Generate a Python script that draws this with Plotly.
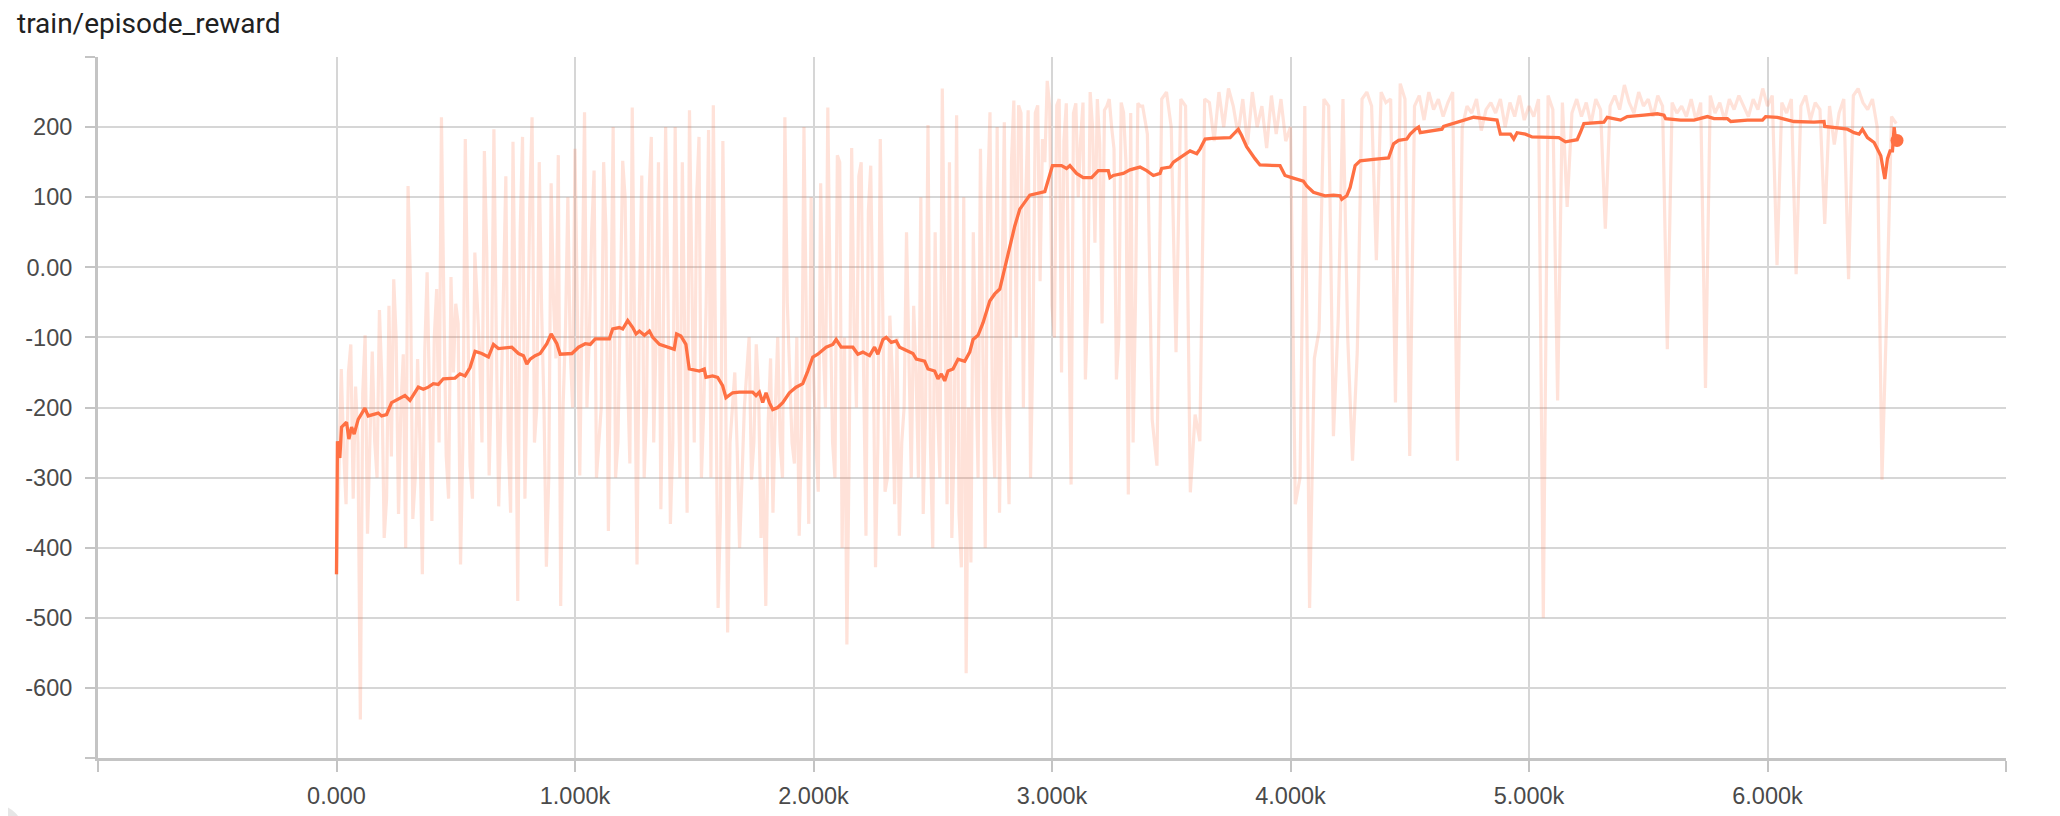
import plotly.graph_objects as go

# ---------------- data ----------------
TITLE = "train/episode_reward"

# episodes logged every 20 steps (whole run)
raw_values = [
    # 0 - 1100
    -438, -145, -338, -110, -170, -645, -97, -255, -248, -61, -386, -55, -17, -352, -124, 116,
    -359, -131, -438, -7, -362, -31, 214, -269, -14, -52, -424, 183, -283, 21, -124, 166,
    -297, 197, -341, -45, -248, 179, -476, 186, -150, 214, -200, -60, -427, 120, -130, -483,
    -90, -120, 169, -297, 221, -100, 138, -250,
    # 1120 - 2220
    150, -376, 200, -250, 152, -150, 228, -424, 131, -200, 186, -100, -345, 200, -366, 200,
    -300, -80, 224, -250, 186, -200, 196, 231, -486, 180, -521, -200, -260, -303, -150, -303,
    -110, -386, -483, -130, -200, -250, 214, -150, -280, -383, 200, -366, -150, -320, -100, 228,
    -250, 160, -400, -538, 170, -200, 150, -383,
    # 2240 - 3360
    145, -428, 183, -320, -69, -338, -383, -200, -150, -55, -300, -352, 203, -400, -200, 255,
    -338, -386, 217, -428, -579, -421, -100, 169, -400, 221, -300, -350, 207, -338, 238, 231,
    -200, 224, -110, 231, 183, 266, -55, 231, -150, 234, -310, 234, 183, -160, 250, 35,
    176, 224, 240, 169, -100, 221, -324, -250, 234,
    # 3380 - 4500
    230, 190, -217, -283, 240, 250, 200, -121, 240, 230, -321, -210, -248, 240, 235, 180,
    250, 200, 255, 230, 190, 240, 175, 250, 200, 230, 170, 245, 190, 240, 180, 200,
    -338, -300, 230, -486, -130, -90, 240, 230, -241, -75, 240, -100, -276, -120, 240, 250,
    230, 10, 250, 235, 240, -193, 262, 240, -269,
    # 4520 - 5620
    230, 245, 210, 250, 225, 240, 215, 235, 250, -276, 200, 230, 220, 240, 195, 225,
    235, 220, 240, 200, 235, 215, 245, 210, 230, 215, 240, -500, 245, 225, -190, 235,
    86, 220, 240, 215, 235, 205, 240, 225, 55, 230, 245, 225, 260, 235, 220, 250,
    230, 240, 215, 245, 230, -117, 235, 220,
    # 5640 - 6540
    230, 215, 240, 210, 235, -172, 245, 220, 235, 210, 240, 225, 245, 230, 215, 240,
    225, 255, 230, 245, 3, 235, 220, 240, -10, 230, 245, 210, 235, 225, 62, 230,
    175, 220, 240, -17, 245, 255, 235, 225, 240, 200, -303, -62, 215, 205,
]
raw_steps = [20 * i for i in range(len(raw_values))]

# extra episodes in the dense early phase (steps 10, 30, 50, ...)
raw_mid_values = [
    # 10 - 1090
    -300, -260, -150, -330, -250, -180, -380, -120, -300, -160,
    -330, -270, -100, -200, -400, -20, -300, -250, -120, -200,
    -100, -250, -50, -330, -150, -80, -250, -60, -330, -50,
    -250, 20, -150, -100, -200, 130, -350, -100, 50, -330,
    80, -250, 150, -200, -300, -50, 160, -200, 100, -200,
    -100, -50, -200, 50, -300,
    # 1110 - 2230
    -200, 50, -100, -300, -50, 100, -280, -100, -50, -300,
    100, -250, 150, -100, -50, -250, -100, 150, -350, -50,
    100, -300, -50, -300, -150, -350, -100, -250, -150, -400,
    -200, -100, -250, -180, -300, -220, -350, -100, -300, -50,
    -250, -100, -230, -60, 100, -250, 120, -200, -50, -300,
    150, -100, -250, -80, 130, -150, 80,
    # 2250 - 3390
    -100, -250, -50, -300, -150, -100, -250, 50, -300, -150,
    100, -200, -250, 50, -300, -100, 150, -250, -350, 100,
    -200, 50, -300, -150, 100, -200, 200, -50, -200, 150,
    -100, 220, 100, -300, 220, -20, 150, 230, -100, 240,
    180, -50, 220, 100, 235, -50, 200, 240, -80, 230,
    200, -160, 235, 150, 220, -50, 230, 210,
]
raw_mid_steps = [10 + 20 * i for i in range(len(raw_mid_values))]

smooth_steps = [
    0, 4, 14, 21, 42, 52, 63, 74, 91, 105, 119, 133, 175, 189, 210, 231, 287, 308, 329, 343,
    364, 385, 406, 427, 448, 497, 518, 539, 560, 581, 609, 637, 658, 679, 735, 763, 784, 798,
    812, 833, 854, 882, 900, 924, 938, 987, 1015, 1043, 1064, 1085,
    1144, 1158, 1186, 1200, 1221, 1242, 1256, 1270, 1291, 1312, 1326, 1354, 1416, 1426, 1444,
    1465, 1479, 1521, 1542, 1549, 1577, 1598, 1619, 1633, 1661, 1689, 1745, 1759, 1773, 1787,
    1801, 1815, 1829, 1850, 1871, 1899, 1927, 1955, 1976, 1997, 2018, 2053, 2081, 2095, 2116,
    2165, 2186, 2207, 2235,
    2256, 2270, 2291, 2305, 2326, 2347, 2361, 2417, 2431, 2466, 2480, 2508, 2522, 2536, 2550,
    2564, 2585, 2606, 2634, 2655, 2669, 2690, 2711, 2739, 2760, 2781, 2802, 2823, 2844, 2865,
    2893, 2907, 2970, 3002, 3040, 3061, 3075, 3103, 3131, 3166, 3194, 3236, 3243, 3257, 3299,
    3327, 3369,
    3397, 3425, 3453, 3460, 3495, 3509, 3551, 3579, 3607, 3621, 3642, 3670, 3747, 3760, 3781,
    3795, 3816, 3851, 3872, 3956, 3977, 4005, 4054, 4068, 4096, 4145, 4180, 4208, 4215, 4236,
    4250, 4271, 4292, 4348, 4411, 4432, 4453, 4488, 4502,
    4523, 4537, 4544, 4586, 4635, 4642, 4698, 4768, 4866, 4880, 4922, 4936, 4950, 4985, 5013,
    5090, 5125, 5153, 5202, 5216, 5230, 5314, 5328, 5384, 5412, 5482, 5538, 5566, 5573, 5636,
    5692, 5748, 5776, 5832, 5846, 5916, 5979, 5992, 6041, 6111, 6195, 6237, 6240, 6293, 6335,
    6363, 6384, 6398, 6419, 6447, 6475, 6492, 6503, 6514, 6524, 6531, 6538, 6543,
]
smooth_values = [
    -438, -248, -272, -228, -221, -245, -228, -238, -217, -210, -201, -212, -208, -212, -210,
    -193, -183, -190, -179, -171, -174, -171, -166, -167, -159, -158, -152, -155, -143, -120,
    -123, -128, -110, -116, -114, -123, -126, -138, -131, -126, -123, -109, -95, -109, -124,
    -123, -114, -109, -110, -102,
    -102, -88, -86, -88, -76, -86, -95, -91, -97, -91, -100, -110, -117, -95, -98,
    -110, -145, -148, -145, -157, -155, -157, -169, -186, -179, -178, -178, -183, -178, -193,
    -179, -193, -203, -200, -193, -179, -171, -166, -148, -128, -124, -114, -110, -103, -114,
    -114, -124, -121, -126,
    -114, -124, -103, -100, -107, -105, -114, -123, -131, -134, -145, -148, -159, -152, -162,
    -148, -145, -131, -134, -121, -103, -97, -79, -48, -38, -31, 0, 28, 59, 83,
    97, 103, 108, 145, 145, 141, 145, 134, 128, 128, 138, 138, 128, 131, 134,
    139, 143,
    138, 131, 134, 141, 143, 150, 159, 166, 162, 169, 183, 184, 185, 190, 197,
    188, 172, 155, 146, 145, 131, 128, 123, 116, 107, 102, 103, 102, 97, 102,
    114, 145, 152, 154, 156, 176, 181, 183, 190,
    197, 200, 192, 194, 197, 201, 207, 214, 210, 190, 190, 183, 192, 190, 186,
    186, 185, 179, 182, 193, 205, 207, 214, 210, 215, 217, 219, 217, 212, 210,
    210, 215, 212, 212, 208, 210, 210, 215, 214, 208, 207, 208, 201, 199, 197,
    192, 190, 197, 185, 178, 159, 126, 155, 166, 166, 200, 179, 181,
]

x_tickvals = [-1000, 0, 1000, 2000, 3000, 4000, 5000, 6000, 7000]
x_ticktext = ["", "0.000", "1.000k", "2.000k", "3.000k", "4.000k", "5.000k", "6.000k", ""]
y_tickvals = [-700, -600, -500, -400, -300, -200, -100, 0, 100, 200, 300]
y_ticktext = ["", "-600", "-500", "-400", "-300", "-200", "-100", "0.00", "100", "200", ""]

# merge both raw logs in step order
raw_pairs = sorted(zip(raw_steps + raw_mid_steps, raw_values + raw_mid_values))
raw_x = [p[0] for p in raw_pairs]
raw_y = [p[1] for p in raw_pairs]

# ---------------- styling ----------------
ORANGE = "#ff7043"
RAW_COLOR = "rgba(255,112,67,0.2)"
GRID = "#d6d6d6"
AXIS = "#c4c4c4"
TICK_FONT = dict(family="Liberation Sans, Arial, sans-serif", size=23.5, color="#4a4a4a")

# the page adds an 8px body margin: offset everything by it
FW, FH = 2044, 808
ML, MR, MT, MB = 90, 46, 49, 58
PW, PH = FW - ML - MR, FH - MT - MB

fig = go.Figure()
fig.add_trace(go.Scatter(
    x=raw_x, y=raw_y, mode="lines",
    line=dict(color=RAW_COLOR, width=3.2), hoverinfo="skip", showlegend=False,
))
fig.add_trace(go.Scatter(
    x=smooth_steps, y=smooth_values, mode="lines",
    line=dict(color=ORANGE, width=3.3), showlegend=False,
))
fig.add_trace(go.Scatter(
    x=smooth_steps[-1:], y=smooth_values[-1:], mode="markers",
    marker=dict(color=ORANGE, size=13), showlegend=False,
))

fig.update_layout(
    width=FW, height=FH,
    margin=dict(l=ML, r=MR, t=MT, b=MB, pad=0),
    paper_bgcolor="white", plot_bgcolor="white",
    title=dict(
        text=TITLE, xref="container", yref="container",
        x=9 / FW, xanchor="left", y=1 - 15 / FH, yanchor="middle",
        font=dict(family="Roboto, sans-serif", size=28, color="#212121"),
    ),
    xaxis=dict(
        range=[-1000, 7000], tickmode="array", tickvals=x_tickvals, ticktext=x_ticktext,
        showgrid=True, gridcolor=GRID, gridwidth=1.5,
        showline=True, linecolor=AXIS, linewidth=3,
        ticks="outside", ticklen=11, tickcolor=AXIS, tickwidth=1.5,
        tickfont=TICK_FONT, zeroline=False, ticklabelstandoff=4,
        automargin=False,
    ),
    yaxis=dict(
        range=[-700, 300], tickmode="array", tickvals=y_tickvals, ticktext=y_ticktext,
        showgrid=True, gridcolor=GRID, gridwidth=1.5,
        showline=True, linecolor=AXIS, linewidth=3,
        ticks="outside", ticklen=10, tickcolor=AXIS, tickwidth=1.5,
        tickfont=TICK_FONT, zeroline=False, ticklabelstandoff=8,
        automargin=False,
    ),
    shapes=[dict(
        type="circle", xref="paper", yref="paper",
        x0=(-44 - ML) / PW, x1=(16 - ML) / PW,
        y0=-106 / PH, y1=-46 / PH,
        fillcolor="#e6e6e6", line=dict(width=0), layer="above",
    )],
)

fig.write_html("out.html")
